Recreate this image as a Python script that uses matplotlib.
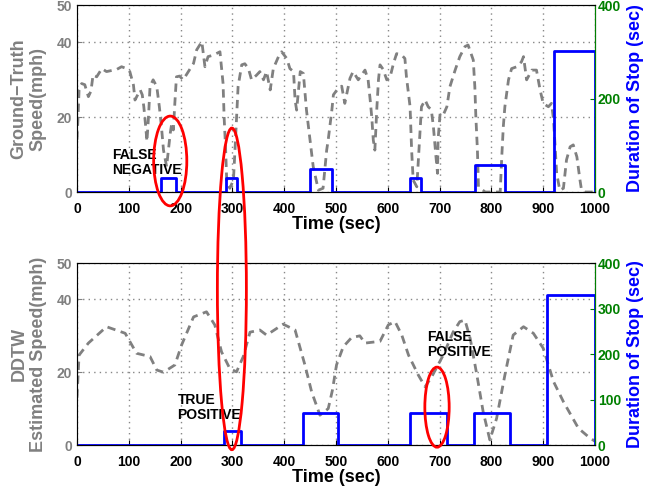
import matplotlib
matplotlib.use("Agg")
import matplotlib.pyplot as plt
from matplotlib.patches import Ellipse

# Ground-truth speed (mph) vs time (sec)
gt_time = [0, 2, 4, 9, 15, 22, 27, 31, 38, 48, 57, 67, 77, 86, 96, 102, 109, 112, 115, 122,
           126, 129, 133, 135, 138, 141, 147, 154, 159, 163, 167, 173, 180, 183, 186, 189, 192,
           198, 205, 215, 225, 231, 241, 247, 253, 263, 276, 282, 284, 287, 289, 295, 302, 305,
           308, 311, 318, 324, 331, 337, 347, 353, 360, 366, 373, 379, 389, 395, 405, 411, 418,
           421, 424, 431, 437, 443, 450, 456, 466, 475, 482, 485, 492, 495, 504, 511, 517, 527,
           533, 543, 556, 562, 566, 569, 572, 575, 579, 582, 585, 591, 598, 604, 611, 617, 627,
           633, 636, 643, 646, 649, 656, 659, 662, 665, 672, 678, 684, 688, 693, 696, 697, 701,
           707, 714, 720, 730, 739, 749, 755, 765, 768, 770, 773, 775, 788, 800, 817, 820, 823,
           826, 833, 839, 849, 858, 862, 868, 878, 887, 894, 900, 910, 916, 920, 923, 926, 932,
           939, 945, 952, 958, 965, 971, 974, 980, 1000]
gt_speed = [14, 20, 27.3, 29, 28.7, 25.5, 27, 31.3, 30.8, 33, 32.2, 32.5, 32.8, 33.5, 33, 32.2,
            28.6, 24.6, 25.4, 27.3, 26, 22.8, 17, 13.5, 20, 28.2, 30, 28.2, 22.8, 17.5, 11.2,
            6.8, 15.7, 18.4, 16.6, 24, 30.8, 31, 30, 32.2, 34.4, 38, 40.2, 33.5, 36.2, 36.6,
            37.5, 29, 20.1, 11.2, 3.2, 1, 3.2, 11.2, 20, 28.2, 34, 34.3, 33, 30, 31.3, 32.2, 30,
            32.2, 27.3, 33, 36.2, 37.5, 35.7, 33, 32.2, 24.6, 21.9, 32.2, 31.7, 21.9, 13.9, 6.8,
            0.5, 1, 11.2, 14, 21.9, 26, 27.7, 28.3, 23.7, 30.4, 32.2, 30, 32.6, 30, 24.6, 20.1,
            13.9, 11.2, 22.8, 30, 34, 32.8, 30, 30.5, 34.4, 37, 36.6, 35.7, 30.8, 22.8, 11.2,
            3.2, 1.4, 8.6, 15.7, 22.8, 24.6, 22.8, 22, 17.5, 9.4, 5, 13.9, 21, 20.6, 22.8, 28.2,
            32.6, 36.2, 38.9, 39.3, 35.3, 28.2, 20.1, 11.2, 1.4, 0, 0, 0, 9.4, 17.5, 22.8, 30,
            33, 33.5, 34.8, 36.2, 30, 32.6, 32.6, 27.3, 23.7, 22.8, 23.7, 19.3, 12.1, 5, 0.5, 1,
            8.6, 12.1, 12.6, 9.4, 3.2, 0.5, 0, 0]

# DDTW estimated speed (mph)
est_time = [0, 4, 22, 57, 93, 115, 141, 154, 167, 189, 202, 225, 250, 266, 279, 295, 308, 321,
            334, 353, 366, 398, 421, 440, 453, 469, 485, 493, 501, 514, 530, 546, 556, 585, 601,
            614, 627, 640, 659, 672, 685, 707, 726, 739, 749, 759, 772, 784, 797, 810, 826, 842,
            862, 881, 900, 920, 939, 968, 987, 1000]
est_speed = [13, 24.7, 28, 32.5, 30.7, 25.2, 24.3, 20.6, 20, 22, 27.5, 35.2, 36.6, 33, 25.6, 21,
             20.1, 24.3, 31, 31.6, 30.2, 33.2, 31.6, 22, 14.6, 8.2, 10, 15, 22, 27, 29.5, 30, 28,
             28.5, 33, 33.9, 30.2, 24.7, 19.2, 16, 18.8, 24.7, 31, 33.9, 34.3, 29.3, 19.2, 9.2,
             1.4, 7.3, 19.2, 30.2, 32.5, 30.7, 26.6, 17.4, 11.9, 4.6, 2.3, 1]

# detected stops: start, end (sec) and duration (sec)
gt_stop_start = [162, 287, 450, 643, 769, 920]
gt_stop_end = [191, 309, 492, 664, 827, 1000]
gt_stop_dur = [30, 30, 49, 30, 58, 301]

est_stop_start = [284, 436, 643, 767, 907]
est_stop_end = [317, 504, 714, 835, 1000]
est_stop_dur = [30, 70, 70, 70, 330]

GRAY = "#808080"
GREEN = "#008000"
BLUE = "#0000ff"

plt.rcParams["font.family"] = ["Liberation Sans", "DejaVu Sans"]
plt.rcParams["font.weight"] = "bold"


def stop_steps(starts, ends, durs):
    xs, ys = [0], [0]
    for s, e, d in zip(starts, ends, durs):
        xs += [s, s, e, e]
        ys += [0, d, d, 0]
    if xs[-1] < 1000:
        xs.append(1000)
        ys.append(0)
    return xs, ys


def setup(ax, axr, times, speeds, starts, ends, durs, ylabel, rticks):
    ax.plot(times, speeds, color=GRAY, lw=2, dashes=(3, 2))
    ax.set_xlim(0, 1000)
    ax.set_ylim(0, 50)
    ax.set_xticks(range(0, 1001, 100))
    ax.set_yticks([0, 20, 40, 50])
    ax.grid(True, color="#888888", linestyle=(0, (1, 3)), lw=1)
    ax.tick_params(axis="x", direction="in", labelsize=10, colors="black", pad=7)
    ax.tick_params(axis="y", direction="in", labelsize=10, colors=GRAY, labelcolor=GRAY)
    for lab in ax.get_xticklabels() + ax.get_yticklabels():
        lab.set_fontweight("bold")
    ax.set_xlabel("Time (sec)", fontsize=13, fontweight="bold", labelpad=0)
    ax.set_ylabel(ylabel, fontsize=13, fontweight="bold", color=GRAY, labelpad=7)
    ax.spines["left"].set_color(GRAY)
    ax.spines["top"].set_color("#333333")
    ax.spines["bottom"].set_color("black")

    xs, ys = stop_steps(starts, ends, durs)
    axr.plot(xs, ys, color=BLUE, lw=2)
    axr.set_ylim(0, 400)
    axr.set_yticks(rticks)
    axr.tick_params(axis="y", direction="in", labelsize=10, colors=GREEN, pad=2)
    for lab in axr.get_yticklabels():
        lab.set_fontweight("bold")
    axr.spines["right"].set_color(GREEN)
    axr.set_ylabel("Duration of Stop (sec)", fontsize=13, fontweight="bold", color=BLUE, labelpad=4)


fig = plt.figure(figsize=(6.62, 4.87), dpi=100)
ax1 = fig.add_axes([0.1163, 0.6057, 0.7825, 0.384])
ax2 = fig.add_axes([0.1163, 0.0862, 0.7825, 0.3737])
ax1r = ax1.twinx()
ax2r = ax2.twinx()

setup(ax1, ax1r, gt_time, gt_speed, gt_stop_start, gt_stop_end, gt_stop_dur,
      "Ground\u2212Truth\nSpeed(mph)", [0, 200, 400])
setup(ax2, ax2r, est_time, est_speed, est_stop_start, est_stop_end, est_stop_dur,
      "DDTW\nEstimated Speed(mph)", [0, 100, 200, 300, 400])

# annotations
ax1.text(67, 7.8, "FALSE\nNEGATIVE", fontsize=10, fontweight="bold", va="center", ha="left",
         linespacing=1.1)
ax2.text(194, 10.2, "TRUE\nPOSITIVE", fontsize=10, fontweight="bold", va="center", ha="left",
         linespacing=1.1)
ax2.text(675, 27.5, "FALSE\nPOSITIVE", fontsize=10, fontweight="bold", va="center", ha="left",
         linespacing=1.1)

e1 = Ellipse((180, 8.3), 64, 24, fill=False, edgecolor="red", lw=2,
             transform=ax1.transData, clip_on=False)
e2 = Ellipse((299, -25.9), 56, 86, fill=False, edgecolor="red", lw=2,
             transform=ax1.transData, clip_on=False)
e3 = Ellipse((695, 10.4), 47, 22, fill=False, edgecolor="red", lw=2,
             transform=ax2.transData, clip_on=False)
for e in (e1, e2, e3):
    e.set_zorder(10)
    fig.add_artist(e)

fig.savefig("out.png", dpi=100)
